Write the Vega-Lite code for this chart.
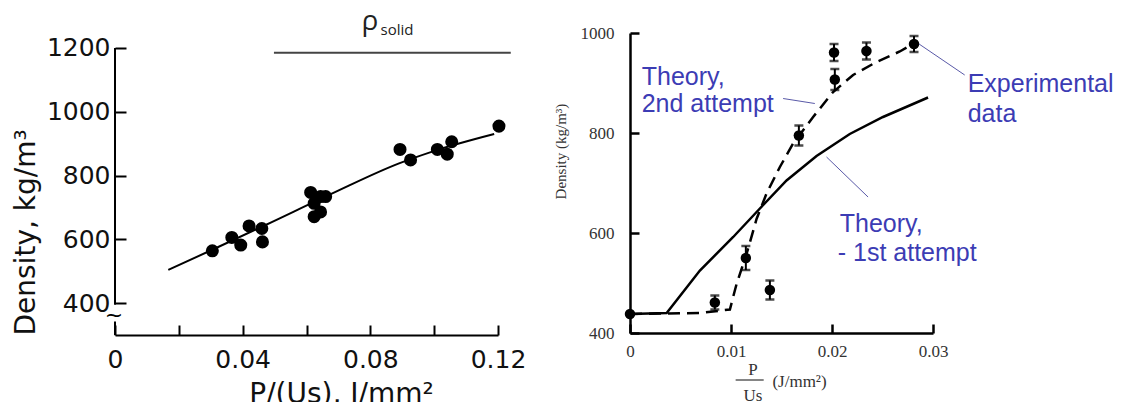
{
  "$schema": "https://vega.github.io/schema/vega-lite/v6.json",
  "background": "white",
  "padding": {"left": 12, "top": 8, "right": 0, "bottom": 0},
  "spacing": 27,
  "config": {"view": {"stroke": null}, "axis": {"grid": false, "labelFlush": false}},
  "datasets": {
    "left_pts": [
      {"x": 0.0305, "y": 564}, {"x": 0.0366, "y": 606}, {"x": 0.0394, "y": 582},
      {"x": 0.042, "y": 642}, {"x": 0.046, "y": 634}, {"x": 0.0462, "y": 592},
      {"x": 0.0613, "y": 747}, {"x": 0.0624, "y": 713}, {"x": 0.0624, "y": 671},
      {"x": 0.066, "y": 734}, {"x": 0.0644, "y": 686}, {"x": 0.0644, "y": 734},
      {"x": 0.0893, "y": 882}, {"x": 0.0926, "y": 849}, {"x": 0.101, "y": 882},
      {"x": 0.1041, "y": 867}, {"x": 0.1055, "y": 906}, {"x": 0.1203, "y": 955}
    ],
    "left_fit": [
      {"x": 0.0167, "y": 504}, {"x": 0.0315, "y": 572}, {"x": 0.0472, "y": 645},
      {"x": 0.0681, "y": 744}, {"x": 0.089, "y": 838}, {"x": 0.0994, "y": 875},
      {"x": 0.1188, "y": 930}
    ],
    "right_pts": [
      {"x": 0, "y": 438},
      {"x": 0.0084, "y": 461, "lo": 447, "hi": 475},
      {"x": 0.01147, "y": 550, "lo": 526, "hi": 574},
      {"x": 0.01385, "y": 486, "lo": 467, "hi": 505},
      {"x": 0.01672, "y": 795, "lo": 775, "hi": 815},
      {"x": 0.0202, "y": 961, "lo": 944, "hi": 978},
      {"x": 0.02028, "y": 907, "lo": 886, "hi": 928},
      {"x": 0.02341, "y": 964, "lo": 947, "hi": 981},
      {"x": 0.02812, "y": 978, "lo": 962, "hi": 994}
    ],
    "theory1": [
      {"x": 0, "y": 438}, {"x": 0.00363, "y": 440}, {"x": 0.00692, "y": 525},
      {"x": 0.01022, "y": 592}, {"x": 0.01286, "y": 649}, {"x": 0.0155, "y": 705},
      {"x": 0.01847, "y": 754}, {"x": 0.02176, "y": 798}, {"x": 0.02505, "y": 832},
      {"x": 0.02951, "y": 871}
    ],
    "theory2": [
      {"x": 0, "y": 438}, {"x": 0.00363, "y": 439}, {"x": 0.00692, "y": 440},
      {"x": 0.00989, "y": 447}, {"x": 0.01055, "y": 498}, {"x": 0.01154, "y": 558},
      {"x": 0.01253, "y": 628}, {"x": 0.01352, "y": 679}, {"x": 0.01484, "y": 732},
      {"x": 0.01615, "y": 779}, {"x": 0.01813, "y": 832}, {"x": 0.02011, "y": 882},
      {"x": 0.02209, "y": 916}, {"x": 0.0244, "y": 942}, {"x": 0.02671, "y": 963},
      {"x": 0.02819, "y": 980}
    ],
    "notes": [
      {"x": 0.00116, "y": 896, "label": "Theory,"},
      {"x": 0.00116, "y": 842, "label": "2nd attempt"},
      {"x": 0.03343, "y": 882, "label": "Experimental"},
      {"x": 0.03343, "y": 822, "label": "data"},
      {"x": 0.02077, "y": 602, "label": "Theory,"},
      {"x": 0.02057, "y": 545, "label": "- 1st attempt"}
    ],
    "leaders": [
      {"x": 0.01516, "y": 869, "x2": 0.0183, "y2": 859},
      {"x": 0.02862, "y": 978, "x2": 0.03314, "y2": 916},
      {"x": 0.01946, "y": 752, "x2": 0.02357, "y2": 672}
    ]
  },
  "hconcat": [
    {
      "width": 383,
      "height": 302,
      "layer": [
        {
          "data": {"name": "left_fit"},
          "mark": {"type": "line", "color": "black", "strokeWidth": 2, "interpolate": "monotone", "clip": false},
          "encoding": {
            "x": {
              "field": "x", "type": "quantitative",
              "scale": {"domain": [0, 0.12], "nice": false, "zero": false},
              "axis": {
                "values": [0, 0.02, 0.04, 0.06, 0.08, 0.1, 0.12],
                "labelExpr": "datum.value == 0 ? '0' : (indexof(['0.04','0.08','0.12'], format(datum.value, '.2f')) >= 0 ? format(datum.value, '.2f') : '')",
                "title": "P/(Us), J/mm²",
                "domainColor": "black", "domainWidth": 2,
                "tickColor": "black", "tickWidth": 2, "tickSize": -10,
                "labelPadding": 22,
                "labelFont": "DejaVu Sans",
                "labelFontSize": 25, "labelColor": "#111",
                "titleFont": "DejaVu Sans",
                "titleFontSize": 28, "titleFontWeight": "normal", "titleColor": "#111",
                "titlePadding": 8, "titleX": 226
              }
            },
            "y": {
              "field": "y", "type": "quantitative",
              "scale": {"domain": [300, 1247], "nice": false, "zero": false},
              "axis": {
                "values": [400, 600, 800, 1000, 1200],
                "format": "d",
                "domain": false,
                "title": "Density, kg/m³",
                "tickColor": "black", "tickWidth": 2, "tickSize": -11,
                "labelPadding": 16,
                "labelFont": "DejaVu Sans",
                "labelFontSize": 25, "labelColor": "#111",
                "titleFont": "DejaVu Sans",
                "titleFontSize": 28, "titleFontWeight": "normal", "titleColor": "#111",
                "titleAnchor": "start", "titlePadding": 6
              }
            }
          }
        },
        {
          "data": {"name": "left_pts"},
          "mark": {"type": "circle", "color": "black", "opacity": 1, "size": 170, "clip": false},
          "encoding": {
            "x": {"field": "x", "type": "quantitative"},
            "y": {"field": "y", "type": "quantitative"}
          }
        },
        {
          "data": {"values": [{"y": 395, "y2": 1200}, {"y": 300, "y2": 342}]},
          "mark": {"type": "rule", "color": "black", "strokeWidth": 2, "clip": false},
          "encoding": {
            "x": {"datum": 0, "type": "quantitative"},
            "y": {"field": "y", "type": "quantitative"},
            "y2": {"field": "y2"}
          }
        },
        {
          "data": {"values": [{"x": 0, "y": 362, "t": "~"}]},
          "mark": {"type": "text", "fontSize": 22, "font": "DejaVu Sans", "color": "black", "baseline": "middle", "align": "center", "dx": -1, "clip": false},
          "encoding": {
            "x": {"field": "x", "type": "quantitative"},
            "y": {"field": "y", "type": "quantitative"},
            "text": {"field": "t"}
          }
        },
        {
          "data": {"values": [{"x": 0.0498, "x2": 0.124, "y": 1185}]},
          "mark": {"type": "rule", "color": "#444", "strokeWidth": 2, "clip": false},
          "encoding": {
            "x": {"field": "x", "type": "quantitative"},
            "x2": {"field": "x2"},
            "y": {"field": "y", "type": "quantitative"}
          }
        },
        {
          "data": {"values": [{"x": 0.0799, "y": 1256, "t": "ρ"}]},
          "mark": {"type": "text", "fontSize": 28, "font": "Open Sans", "color": "#222", "baseline": "alphabetic", "align": "center", "clip": false},
          "encoding": {
            "x": {"field": "x", "type": "quantitative"},
            "y": {"field": "y", "type": "quantitative"},
            "text": {"field": "t"}
          }
        },
        {
          "data": {"values": [{"x": 0.0832, "y": 1242, "t": "solid"}]},
          "mark": {"type": "text", "fontSize": 15, "font": "Open Sans", "color": "#222", "baseline": "alphabetic", "align": "left", "clip": false},
          "encoding": {
            "x": {"field": "x", "type": "quantitative"},
            "y": {"field": "y", "type": "quantitative"},
            "text": {"field": "t"}
          }
        }
      ]
    },
    {
      "width": 303,
      "height": 300,
      "layer": [
        {
          "data": {"name": "theory1"},
          "mark": {"type": "line", "color": "black", "strokeWidth": 2.5, "interpolate": "linear", "clip": false},
          "encoding": {
            "x": {
              "field": "x", "type": "quantitative",
              "scale": {"domain": [0, 0.03], "nice": false, "zero": false},
              "axis": {
                "values": [0, 0.01, 0.02, 0.03],
                "labelExpr": "datum.value == 0 ? '0' : format(datum.value, '.2f')",
                "title": null,
                "domainColor": "black", "domainWidth": 2.5,
                "tickColor": "black", "tickWidth": 2.5, "tickSize": -9,
                "labelPadding": 19,
                "labelFont": "Liberation Serif", "labelFontSize": 17, "labelColor": "#333"
              }
            },
            "y": {
              "field": "y", "type": "quantitative",
              "title": "Density (kg/m³)",
              "scale": {"domain": [400, 1000], "nice": false, "zero": false},
              "axis": {
                "values": [400, 600, 800, 1000],
                "format": "d",
                "domainColor": "black", "domainWidth": 2.5,
                "tickColor": "black", "tickWidth": 2.5, "tickSize": -9,
                "labelPadding": 25,
                "labelFont": "Liberation Serif", "labelFontSize": 17, "labelColor": "#333",
                "titleFont": "Liberation Serif", "titleFontSize": 15, "titleFontWeight": "normal", "titleColor": "#333",
                "titlePadding": 12, "titleY": 118
              }
            }
          }
        },
        {
          "data": {"name": "theory2"},
          "mark": {"type": "line", "color": "black", "strokeWidth": 2.5, "strokeDash": [12, 7], "interpolate": "linear", "clip": false},
          "encoding": {
            "x": {"field": "x", "type": "quantitative"},
            "y": {"field": "y", "type": "quantitative", "title": "Density (kg/m³)"}
          }
        },
        {
          "data": {"name": "right_pts"},
          "transform": [{"filter": "isValid(datum.lo)"}],
          "mark": {"type": "errorbar", "ticks": {"size": 9, "thickness": 2.5, "color": "black"}, "rule": {"strokeWidth": 2, "color": "black"}, "clip": false},
          "encoding": {
            "x": {"field": "x", "type": "quantitative"},
            "y": {"field": "lo", "type": "quantitative", "title": "Density (kg/m³)"},
            "y2": {"field": "hi"}
          }
        },
        {
          "data": {"name": "right_pts"},
          "mark": {"type": "circle", "color": "black", "opacity": 1, "size": 110, "clip": false},
          "encoding": {
            "x": {"field": "x", "type": "quantitative"},
            "y": {"field": "y", "type": "quantitative", "title": "Density (kg/m³)"}
          }
        },
        {
          "data": {"name": "leaders"},
          "mark": {"type": "rule", "color": "#5a5aa8", "strokeWidth": 1, "clip": false},
          "encoding": {
            "x": {"field": "x", "type": "quantitative"},
            "y": {"field": "y", "type": "quantitative", "title": "Density (kg/m³)"},
            "x2": {"field": "x2"},
            "y2": {"field": "y2"}
          }
        },
        {
          "data": {"name": "notes"},
          "mark": {"type": "text", "font": "Liberation Sans", "fontSize": 25, "color": "#3c3cb4", "align": "left", "baseline": "alphabetic", "clip": false},
          "encoding": {
            "x": {"field": "x", "type": "quantitative"},
            "y": {"field": "y", "type": "quantitative", "title": "Density (kg/m³)"},
            "text": {"field": "label"}
          }
        },
        {
          "data": {"values": [{"x": 0.01217, "y": 326, "t": "P"}, {"x": 0.01217, "y": 275, "t": "Us"}]},
          "mark": {"type": "text", "font": "Liberation Serif", "fontSize": 17, "color": "#333", "align": "center", "baseline": "middle", "clip": false},
          "encoding": {
            "x": {"field": "x", "type": "quantitative"},
            "y": {"field": "y", "type": "quantitative", "title": "Density (kg/m³)"},
            "text": {"field": "t"}
          }
        },
        {
          "data": {"values": [{"x": 0.0141, "y": 302, "t": "(J/mm²)"}]},
          "mark": {"type": "text", "font": "Liberation Serif", "fontSize": 17, "color": "#333", "align": "left", "baseline": "middle", "clip": false},
          "encoding": {
            "x": {"field": "x", "type": "quantitative"},
            "y": {"field": "y", "type": "quantitative", "title": "Density (kg/m³)"},
            "text": {"field": "t"}
          }
        },
        {
          "data": {"values": [{"x": 0.01046, "x2": 0.01325, "y": 306}]},
          "mark": {"type": "rule", "color": "#333", "strokeWidth": 1.2, "clip": false},
          "encoding": {
            "x": {"field": "x", "type": "quantitative"},
            "x2": {"field": "x2"},
            "y": {"field": "y", "type": "quantitative", "title": "Density (kg/m³)"}
          }
        }
      ]
    }
  ]
}
